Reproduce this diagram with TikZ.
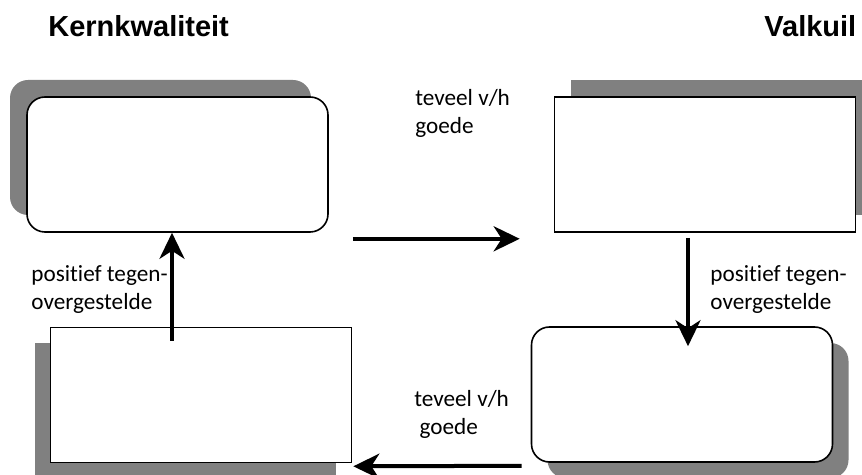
\documentclass[tikz,border=0pt]{standalone}
\usepackage{fontspec}
\setmainfont{Carlito}[Ligatures=NoCommon]
\newfontfamily\headfont{Liberation Sans}
\usetikzlibrary{shapes,arrows.meta,positioning,shadows}

\begin{document}
\begin{tikzpicture}[x=0.5pt,y=-0.5pt,
  box/.style={shape=rectangle,draw=black,fill=white,line width=0.8pt,minimum width=150.5pt,minimum height=67.5pt,inner sep=0pt},
  roundbox/.style={box,rounded corners=9pt},
  boxshadow/.style 2 args={drop shadow={shadow xshift=#1,shadow yshift=#2,fill=black!50,opacity=1}},
  flow/.style={-{Stealth[length=13pt,width=12.5pt,inset=4pt]},line width=2pt},
  lbl/.style={align=left,inner sep=0pt,anchor=north west,font=\fontsize{11.6}{14}\selectfont},
  head/.style={inner sep=0pt,anchor=base west,font=\headfont\bfseries\fontsize{14.5}{18}\selectfont}]

\useasboundingbox (0,0) rectangle (862,475);

% Headings
\node [head] at (48,37) (kern_head) {Kernkwaliteit};
\node [head] at (764,37) (valk_head) {Valkuil};

% Top row
\node [roundbox,boxshadow={-8.5pt}{8.5pt}] at (177.5,164.5) (kern) {};
\node [box,boxshadow={8pt}{8.5pt}] at (705,164.5) (valk) {};

% Bottom row
\node [box,boxshadow={-8pt}{-8pt}] at (201,395) (allerg) {};
\node [roundbox,boxshadow={8pt}{-8pt}] at (682,394.5) (uitd) {};

% Labels
\node [lbl] at (415,89) (goed_top) {teveel v/h\\goede};
\node [lbl] at (31,265) (tegen_left) {positief tegen-\\overgestelde};
\node [lbl] at (710,265) (tegen_right) {positief tegen-\\overgestelde};
\node [lbl] at (414,390) (goed_bot) {teveel v/h\\~goede};

% Arrows round the quadrant
\draw [flow] ([xshift=12pt,yshift=-3pt]kern.south east) -- ([xshift=-17pt,yshift=-3pt]valk.south west);
\draw [flow] ([xshift=-8.5pt,yshift=-2.5pt]valk.south) -- ([xshift=-8.5pt,yshift=-10pt]valk.south |- uitd.north);
\draw [flow] ([xshift=-4.5pt,yshift=-1.5pt]uitd.south west) -- ([xshift=0.5pt,yshift=-1.5pt]allerg.south east);
\draw [flow] ([xshift=-2.75pt,yshift=-7pt]kern.south |- allerg.north) -- ([xshift=-2.75pt]kern.south);

\end{tikzpicture}
\end{document}
